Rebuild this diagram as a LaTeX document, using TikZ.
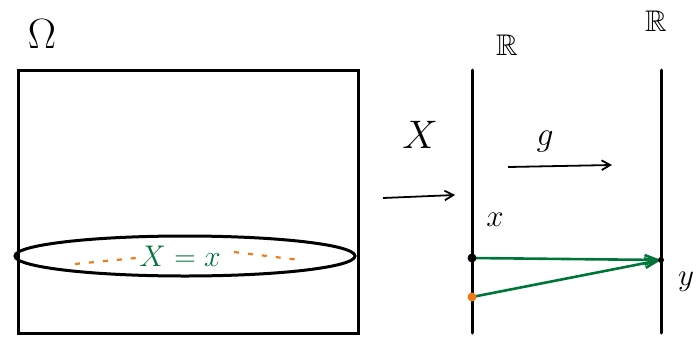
\documentclass[tikz,border=0pt]{standalone}
\usepackage{amsmath, amssymb}
\usepackage{xcolor}
\usetikzlibrary{arrows.meta, positioning, calc}
\definecolor{SK_GREEN}{HTML}{00753a}
\definecolor{SK_ORANGE}{HTML}{f07a1a}
\tikzset{
  ink/.style={draw=black, line width=3pt, line cap=round},
  big/.style={font=\Huge, inner sep=1pt, scale=#1, transform shape},
  lbl/.style={big=1.2},
  small lbl/.style={big=1.25},
  maparr/.style={-{Straight Barb[length=3mm,width=3.4mm]}, line width=1.8pt},
  pointarr/.style={-{Straight Barb[length=4.5mm,width=3.4mm]}, line width=2.6pt, color=SK_GREEN},
  sparkle/.style={line width=2.2pt, color=SK_ORANGE, dash pattern=on 5pt off 9pt},
}

\begin{document}
\begin{tikzpicture}[x=1pt, y=-1pt]
  \useasboundingbox (0,0) rectangle (699,338);

  % sample space
  \node[big=1.7] (omega) at (42,34) {$\Omega$};
  \draw[ink] (18,70) rectangle (358,333);
  \draw[ink] (185,256) ellipse [x radius=170, y radius=20];

  % the event X = x
  \node[big=1.2, text=SK_GREEN] (event) at (180,256) {$X = x$};
  \draw[sparkle] (75,264) -- (136,258);
  \draw[sparkle] (234,252) -- (300,260);

  % real lines
  \coordinate (l1top) at (472,70);
  \coordinate (l1bot) at (472,333);
  \coordinate (l2top) at (661,70);
  \coordinate (l2bot) at (661,333);
  \draw[ink] (l1top) -- (l1bot);
  \draw[ink] (l2top) -- (l2bot);
  \node[lbl] (reals1) at (507,45) {$\mathbb{R}$};
  \node[lbl] (reals2) at (656,21) {$\mathbb{R}$};

  % maps
  \coordinate (xa) at (383,198);
  \coordinate (xb) at (455,195);
  \draw[maparr] (xa) -- (xb);
  \node[big=1.6] (Xlbl) at (420,135) {$X$};
  \coordinate (ga) at (508,167);
  \coordinate (gb) at (612,165);
  \draw[maparr] (ga) -- (gb);
  \node[big=1.35] (glbl) at (545,142) {$g$};

  % points and images
  \coordinate (px) at (472,258);
  \coordinate (po) at (472,297);
  \coordinate (py) at (661,260);
  \node[small lbl] (xlbl) at (495,220) {$x$};
  \node[small lbl] (ylbl) at (686,282) {$y$};
  \draw[pointarr] (px) -- (py);
  \draw[pointarr] (po) -- (py);
  \fill[black] (px) circle (4.5pt);
  \fill[SK_ORANGE] (po) circle (4.5pt);
  \fill[black] (py) circle (3pt);

\end{tikzpicture}
\end{document}
